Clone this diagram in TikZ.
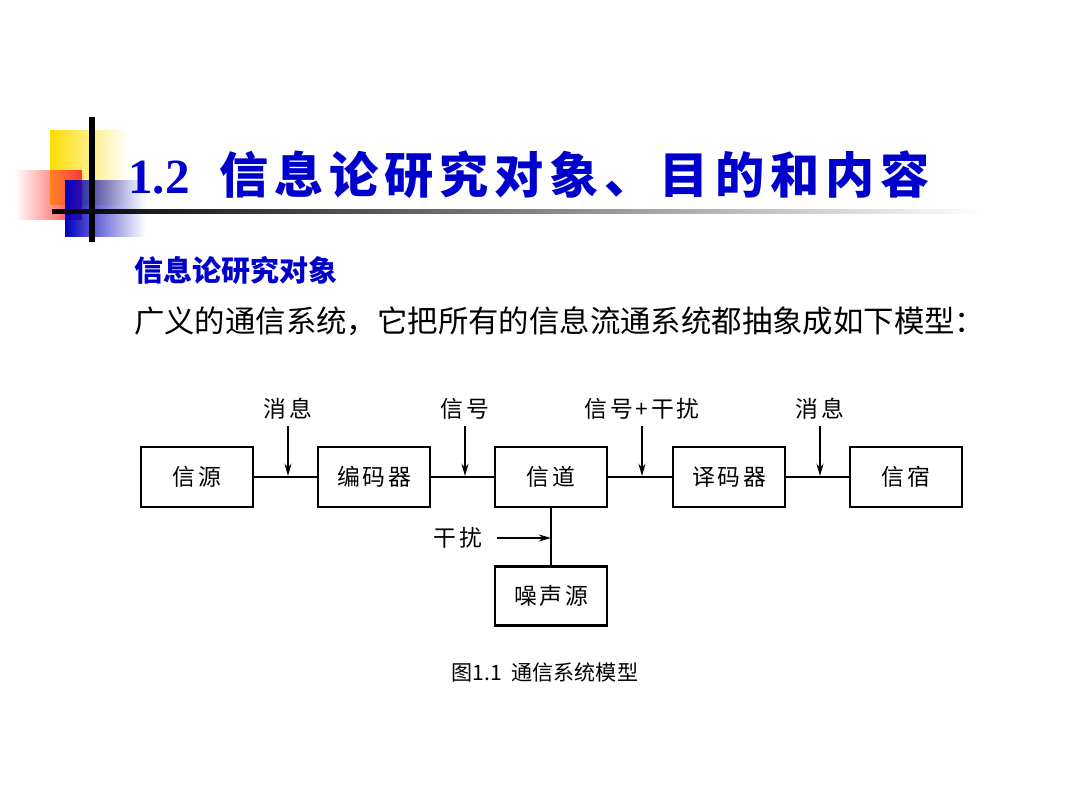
\documentclass[tikz,border=0pt]{standalone}
\usepackage{fontspec}
\newfontfamily\cjk{Noto Sans CJK SC}
\newfontfamily\cjkwide{Noto Sans CJK SC}[LetterSpace=12]
\setmainfont{Liberation Serif}
\usetikzlibrary{positioning,arrows.meta,fadings}
\definecolor{titleblue}{RGB}{0,0,204}
\tikzset{
  block/.style={draw,line width=1.4pt,minimum width=2.24cm,minimum height=1.2cm,font=\cjkwide\fontsize{13}{15}\selectfont},
  lbl/.style={font=\cjkwide\fontsize{13}{15}\selectfont},
  link/.style={line width=0.8pt},
  feed/.style={line width=0.8pt,-{Stealth[length=7pt,width=4pt]}}
}
\begin{document}
\begin{tikzpicture}[x=0.02cm,y=-0.02cm]
\useasboundingbox (0,0) rectangle (1080,810);
% corner decoration
\fill[yellow!80!orange,path fading=east] (50,130) rectangle (128,205);
\fill[red!80,path fading=west] (15,170) rectangle (82,220);
\fill[blue!75!black,path fading=east] (65,180) rectangle (145,237);
\draw[line width=3pt] (92,117) -- (92,242);
\shade[left color=black,right color=white] (52,210) rectangle (985,214);
% title
\node[anchor=west,text=titleblue,font=\bfseries\fontsize{28}{32}\selectfont] (title) at (122,175) {1.2\hspace{0.6em}{\cjkwide 信息论研究对象、目的和内容}};
\node[anchor=west,text=titleblue,font=\cjk\bfseries\fontsize{16.5}{19}\selectfont] (sub) at (128,270) {信息论研究对象};
\node[anchor=west,font=\cjk\fontsize{17.3}{21}\selectfont] (body) at (128,321) {广义的通信系统，它把所有的信息流通系统都抽象成如下模型：};
% blocks
\node[block] (src) at (197,477) {信源};
\node[block] (enc) at (374,477) {编码器};
\node[block] (chn) at (551,477) {信道};
\node[block] (dec) at (729,477) {译码器};
\node[block] (dst) at (906,477) {信宿};
\node[block,minimum height=1.18cm] (noise) at (551,596) {噪声源};
\draw[link] (src) -- (enc);
\draw[link] (enc) -- (chn);
\draw[link] (chn) -- (dec);
\draw[link] (dec) -- (dst);
\draw[link] (chn) -- (noise);
% labels and arrows
\node[lbl] (m1) at (288,409) {消息};
\node[lbl] (s1) at (465,409) {信号};
\node[lbl] (s2) at (642,409) {信号+干扰};
\node[lbl] (m2) at (820,409) {消息};
\foreach \n/\x in {m1/288,s1/465,s2/642,m2/820}
  \draw[feed] (\n.south) -- (\x,476);
\node[lbl] (int) at (458,538) {干扰};
\coordinate (jn) at (551,538);
\draw[feed] (497,538) -- (jn);
\node[font=\cjk\fontsize{12}{14}\selectfont] (cap) at (545,672) {图1.1\ \ 通信系统模型};
\end{tikzpicture}
\end{document}
